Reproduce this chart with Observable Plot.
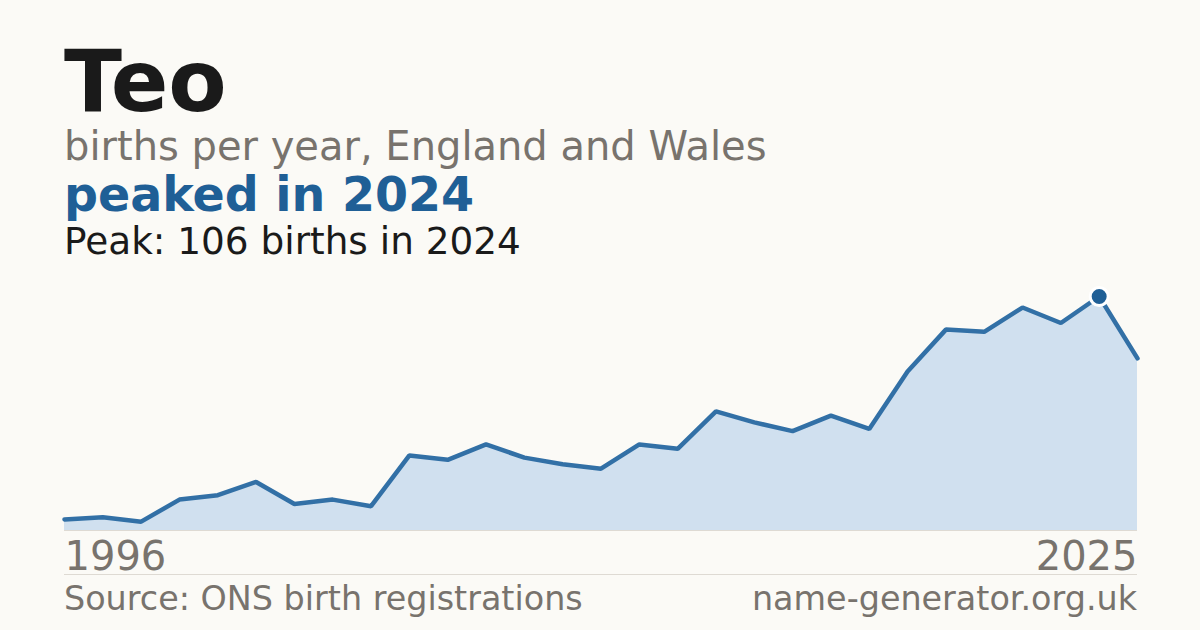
<!DOCTYPE html>
<html>
<head>
<meta charset="utf-8">
<script src="https://cdn.jsdelivr.net/npm/d3@7"></script>
<script src="https://cdn.jsdelivr.net/npm/@observablehq/plot@0.6"></script>
<style>
  html, body { margin: 0; padding: 0; }
  body { width: 1200px; height: 630px; background: #fbfaf6; position: relative; overflow: hidden; font-family: "DejaVu Sans", sans-serif; }
  .t { position: absolute; left: 64px; line-height: 0.9; white-space: nowrap; }
  #title { top: 44px; font-size: 85px; font-weight: bold; color: #1a1a1a; }
  #subtitle { top: 127.5px; font-size: 40px; color: #78736d; }
  #headline { top: 174px; font-size: 47.5px; font-weight: bold; color: #1f5f96; }
  #peak { top: 225px; font-size: 37.4px; color: #1a1a1a; }
  #chart { position: absolute; left: 0; top: 270px; }
  #footer { position: absolute; left: 64px; top: 574px; width: 1073px; border-top: 1px solid #dedad3; }
  #footer span { position: absolute; top: 7px; font-size: 33.4px; color: #78736d; line-height: 1; white-space: nowrap; }
  #src { left: 0; }
  #site { right: 0; }
</style>
</head>
<body>
<div class="t" id="title">Teo</div>
<div class="t" id="subtitle">births per year, England and Wales</div>
<div class="t" id="headline">peaked in 2024</div>
<div class="t" id="peak">Peak: 106 births in 2024</div>
<div id="chart"></div>
<div id="footer"><span id="src">Source: ONS birth registrations</span><span id="site">name-generator.org.uk</span></div>
<script>
const years = [1996, 1998, 1999, 2000, 2001, 2002, 2003, 2004, 2005, 2006,
               2007, 2008, 2009, 2010, 2011, 2012, 2013, 2014, 2015, 2016,
               2017, 2018, 2019, 2020, 2021, 2022, 2023, 2024, 2025];
const births = [5, 6, 4, 14, 16, 22, 12, 14, 11, 34,
                32, 39, 33, 30, 28, 39, 37, 54, 49, 45,
                52, 46, 72, 91, 90, 101, 94, 106, 78];
const peakYear = 2024;
const endLabels = [years[0], years[years.length - 1]];

const data = years.map((y, i) => ({year: y, births: births[i]}));
const peak = data.filter(d => d.year === peakYear);

const chart = Plot.plot({
  width: 1200,
  height: 310,
  marginLeft: 64,
  marginRight: 63,
  marginTop: 26,
  marginBottom: 50,
  style: {background: "transparent", fontFamily: "DejaVu Sans, sans-serif"},
  x: {type: "point", domain: years, padding: 0, round: false, axis: null},
  y: {domain: [0, 106], axis: null},
  marks: [
    Plot.areaY(data, {x: "year", y: "births", fill: "#d0e0ef"}),
    Plot.ruleY([0], {stroke: "#dedad3", strokeWidth: 1}),
    Plot.lineY(data, {x: "year", y: "births", stroke: "#3270a6", strokeWidth: 4.5, strokeLinejoin: "miter"}),
    Plot.dot(peak, {x: "year", y: "births", r: 9, fill: "#1f5f96", stroke: "#ffffff", strokeWidth: 3}),
    Plot.text([endLabels[0]], {x: d => d, frameAnchor: "bottom", textAnchor: "start", lineAnchor: "top", dy: 11, fontSize: 40, fill: "#78736d", text: d => String(d)}),
    Plot.text([endLabels[1]], {x: d => d, frameAnchor: "bottom", textAnchor: "end", lineAnchor: "top", dy: 11, fontSize: 40, fill: "#78736d", text: d => String(d)})
  ]
});
document.getElementById("chart").appendChild(chart);
</script>
</body>
</html>
